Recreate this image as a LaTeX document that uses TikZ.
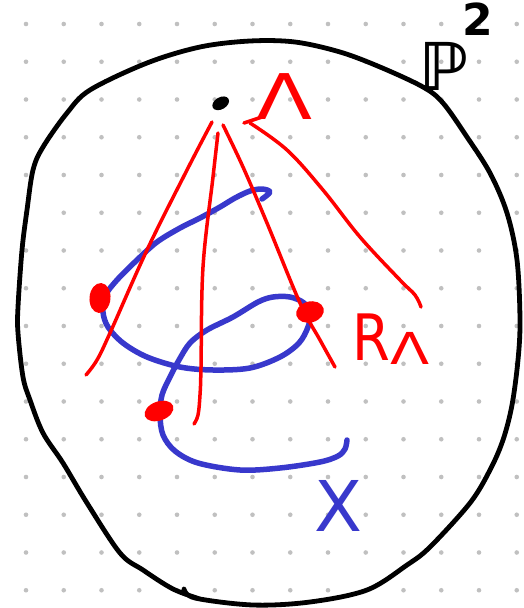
\documentclass[tikz,border=0pt]{standalone}
\usepackage{fontspec}
\setmainfont{DejaVu Sans}
\usepackage{graphicx}
\usetikzlibrary{shapes.geometric}
\definecolor{sketchred}{RGB}{255,0,0}
\definecolor{sketchblue}{RGB}{56,56,204}
\definecolor{dotgray}{RGB}{192,192,192}
\tikzset{
  griddot/.style={fill=dotgray},
  rim/.style={draw=black, line width=4.8pt, line cap=round, line join=round},
  ray/.style={draw=sketchred, line width=3.5pt, line cap=round, line join=round},
  curveX/.style={draw=sketchblue, line width=5.5pt, line cap=round, line join=round},
  blob/.style={ellipse, fill=sketchred, inner sep=0pt},
  redlabel/.style={text=sketchred, inner sep=0pt},
}
\begin{document}
\begin{tikzpicture}[x=1pt,y=-1pt]
\useasboundingbox (0,0) rectangle (524,608);
\fill[white] (0,0) rectangle (524,608);
% dotted grid
\foreach \i in {0,...,13}{
  \foreach \j in {0,...,15}{
    \fill[griddot] ({26+37.75*\i},{24+37.75*\j}) circle (2.3pt);
  }
}
% the projective plane outline
\draw[rim] plot[smooth, tension=0.55] coordinates {
 (184,589) (195,598) (253,605) (310,602) (367,590) (407,565) (430,547)
 (470,503) (490,470) (503,440) (512,405) (518,360) (520,320) (517,260)
 (507,213) (490,173) (467,137) (443,103) (423,87) (380,67) (340,52)
 (295,42) (250,41) (200,47) (147,63) (90,90) (67,113) (43,147) (33,170)
 (27,210) (22,250) (18,307) (18,333) (23,377) (30,400) (43,433) (63,463)
 (87,503) (120,553) (143,570) (173,589) (200,599)};
% blue curve X
\draw[curveX] plot[smooth, tension=0.55] coordinates {
 (262,199) (270,192) (262,189) (250,191) (235,198) (220,207) (200,218)
 (180,228) (157,242) (137,260) (117,280) (105,296) (103,312) (108,327)
 (123,343) (147,357) (180,367) (213,370) (250,368) (280,357) (299,343)
 (308,327) (310,314) (304,303) (290,297) (273,297) (258,302) (233,317)
 (207,330) (190,343) (179,360) (170,377) (162,395) (160,415) (163,435)
 (175,451) (198,463) (240,470) (280,468) (320,462) (338,456) (345,449)
 (347,440)};
% apex
\node[ellipse, fill=black, inner sep=0pt, minimum width=18pt, minimum height=12pt, rotate=30] (apex) at (220.7,103.3) {};
% red rays
\draw[ray] plot[smooth, tension=0.6] coordinates {
 (212,122) (187,170) (147,250) (110,333) (97,360) (86,375)};
\draw[ray] plot[smooth, tension=0.6] coordinates {
 (218,133) (213,177) (203,267) (201,367) (200,395) (198,415) (194,424)};
\draw[ray] plot[smooth, tension=0.6] coordinates {
 (223,125) (243,167) (267,223) (300,303) (320,340) (335,367)};
\draw[ray] (262,117) -- (244,123);
\draw[ray] plot[smooth, tension=0.6] coordinates {
 (250,123) (287,150) (323,190) (360,237) (400,280) (415,295) (421,307)};
% intersection points
\node[blob, minimum width=21pt, minimum height=30pt, rotate=-5] (q1) at (100,298) {};
\node[blob, minimum width=28pt, minimum height=21pt, rotate=15] (q2) at (310,312) {};
\node[blob, minimum width=30pt, minimum height=19pt, rotate=20] (q3) at (159,411) {};
% labels
\node[redlabel, anchor=base, xscale=1.3] (lamlabel) at (285,119) {\fontsize{63}{63}\selectfont Λ};
\node[redlabel, anchor=base west] (rlabel) at (352,360) {\fontsize{64}{64}\selectfont \scalebox{0.85}[1]{R}\raisebox{-4pt}{\fontsize{44}{44}\selectfont\scalebox{1.3}[1]{Λ}}};
\node[text=sketchblue, inner sep=0pt, anchor=base] (xlabel) at (338,531) {\fontsize{70}{70}\selectfont X};
\node[inner sep=0pt, anchor=base west] (plabel) at (419,90) {\fontsize{66}{66}\selectfont\bfseries ℙ\kern-6pt\raisebox{55pt}{\fontsize{44}{44}\selectfont 2}};
\end{tikzpicture}
\end{document}
